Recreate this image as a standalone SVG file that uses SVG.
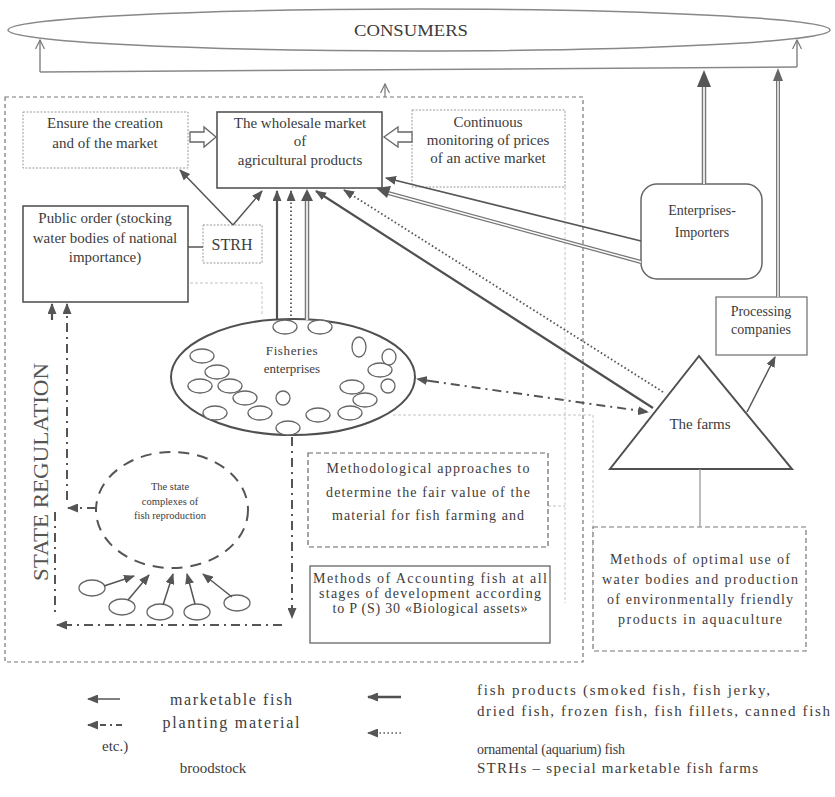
<svg xmlns="http://www.w3.org/2000/svg" width="835" height="797" viewBox="0 0 835 797" font-family="'Liberation Serif', 'DejaVu Serif', serif">
<defs>
<marker id="ah" markerUnits="userSpaceOnUse" markerWidth="11" markerHeight="9" refX="10" refY="4.5" orient="auto"><path d="M0,0 L11,4.5 L0,9 z" fill="#555"/></marker>
<marker id="ao" markerUnits="userSpaceOnUse" markerWidth="10" markerHeight="10" refX="9" refY="5" orient="auto"><path d="M0,0.5 L9,5 L0,9.5" fill="none" stroke="#777" stroke-width="1.2"/></marker>
<style>
text{font-family:"Liberation Serif","DejaVu Serif",serif;fill:#3c3c3c;}
.t16{font-size:16px;}
.t15{font-size:15px;}
.t14{font-size:14px;}
.t13{font-size:13px;}
.t11{font-size:10.5px;}
.c{text-anchor:middle;}
.frame{fill:none;stroke:#777;stroke-width:1.2;stroke-dasharray:4 3;}
.dotbox{fill:#fff;stroke:#999;stroke-width:1;stroke-dasharray:2 1.5;}
.solidbox{fill:#fff;stroke:#555;stroke-width:1.6;}
.faint{fill:none;stroke:#c4c4c4;stroke-width:1;stroke-dasharray:3 2;}
.thin{fill:none;stroke:#555;stroke-width:1.5;}
.thick{fill:none;stroke:#505050;stroke-width:2.2;}
.dotted{fill:none;stroke:#555;stroke-width:1.8;stroke-dasharray:1.6 2.4;}
.dashdot{fill:none;stroke:#555;stroke-width:2;stroke-dasharray:9 5 2 5;}
.dblout{fill:none;stroke:#777;stroke-width:4.5;}
.dblin{fill:none;stroke:#fff;stroke-width:1.6;}
.cons{fill:none;stroke:#888;stroke-width:1.5;}
.fish{fill:#fff;stroke:#666;stroke-width:1.3;}
.hollow{fill:#fff;stroke:#666;stroke-width:1.3;}
</style>
</defs>
<rect width="835" height="797" fill="#fff"/>

<g id="state-regulation">
<rect class="frame" x="5" y="97" width="578" height="565"/>
<text transform="translate(48,472) rotate(-90)" class="c" style="font-size:22px;fill:#555" textLength="218" lengthAdjust="spacingAndGlyphs">STATE REGULATION</text>
</g>
<g id="faint-lines">
<path class="faint" d="M565,187 V603"/>
<path class="faint" d="M393,415 H593 V603"/>
<path class="faint" d="M548,506 H565"/>
<path class="faint" d="M190,283 H262 V315"/>
</g>

<g id="consumers">
<ellipse cx="419" cy="30" rx="411" ry="21" class="cons"/>
<text x="411" y="36" class="c t16" textLength="114" lengthAdjust="spacingAndGlyphs">CONSUMERS</text>
</g>

<g id="ensure">
<rect class="dotbox" x="23" y="112" width="165" height="56"/>
<text x="105" y="128" class="c t15">Ensure the creation</text>
<text x="105" y="148" class="c t15">and of the market</text>
</g>

<g id="wholesale">
<rect class="solidbox" x="217" y="112" width="165" height="76"/>
<text x="300" y="128" class="c t15">The wholesale market</text>
<text x="300" y="146" class="c t15">of</text>
<text x="300" y="165" class="c t15">agricultural products</text>
</g>

<g id="monitoring">
<rect class="dotbox" x="412" y="110" width="153" height="77"/>
<text x="488" y="127" class="c t15">Continuous</text>
<text x="488" y="145" class="c t15">monitoring of prices</text>
<text x="488" y="163" class="c t15">of an active market</text>
</g>

<g id="public-order">
<rect class="solidbox" x="23" y="206" width="165" height="96"/>
<text x="105" y="223" class="c t15">Public order (stocking</text>
<text x="105" y="243" class="c t15">water bodies of national</text>
<text x="105" y="262" class="c t15">importance)</text>
</g>

<g id="strh">
<rect class="dotbox" x="203" y="225" width="59" height="38"/>
<text x="232" y="250" class="c" style="font-size:16px">STRH</text>
</g>

<g id="importers">
<rect x="641" y="184" width="121" height="95" rx="16" fill="#fff" stroke="#666" stroke-width="1.5"/>
<text x="702" y="215" class="c t14">Enterprises-</text>
<text x="702" y="237" class="c t14">Importers</text>
</g>

<g id="processing">
<rect x="716" y="297" width="91" height="58" fill="#fff" stroke="#777" stroke-width="1.3"/>
<text x="761" y="316" class="c t14">Processing</text>
<text x="761" y="334" class="c t14">companies</text>
</g>

<g id="farms">
<polygon points="699,356 610,469 792,469" fill="#fff" stroke="#505050" stroke-width="2"/>
<text x="700" y="429" class="c t15">The farms</text>
</g>

<g id="fisheries">
<ellipse cx="293" cy="377" rx="122" ry="58" fill="#fff" stroke="#505050" stroke-width="2"/>
<text x="292" y="355" class="c t13" style="letter-spacing:0.6px">Fisheries</text>
<text x="292" y="373" class="c t13">enterprises</text>
<ellipse class="fish" cx="285" cy="327" rx="12" ry="7"/>
<ellipse class="fish" cx="320" cy="327" rx="12" ry="7"/>
<ellipse class="fish" cx="202" cy="356" rx="12" ry="7"/>
<ellipse class="fish" cx="217" cy="372" rx="12" ry="7"/>
<ellipse class="fish" cx="200" cy="386" rx="12" ry="7"/>
<ellipse class="fish" cx="230" cy="386" rx="12" ry="7"/>
<ellipse class="fish" cx="245" cy="398" rx="12" ry="7"/>
<ellipse class="fish" cx="215" cy="413" rx="12" ry="7"/>
<ellipse class="fish" cx="260" cy="413" rx="12" ry="7"/>
<ellipse class="fish" cx="283" cy="398" rx="7" ry="7"/>
<ellipse class="fish" cx="288" cy="428" rx="12" ry="7"/>
<ellipse class="fish" cx="318" cy="415" rx="12" ry="7"/>
<ellipse class="fish" cx="350" cy="413" rx="12" ry="7"/>
<ellipse class="fish" cx="365" cy="400" rx="12" ry="7"/>
<ellipse class="fish" cx="352" cy="387" rx="12" ry="7"/>
<ellipse class="fish" cx="388" cy="386" rx="7" ry="7"/>
<ellipse class="fish" cx="380" cy="370" rx="12" ry="7"/>
<ellipse class="fish" cx="389" cy="357" rx="7" ry="8"/>
<ellipse class="fish" cx="359" cy="347" rx="7" ry="10"/>
</g>

<g id="state-complex">
<ellipse cx="172" cy="510" rx="76" ry="58" fill="none" stroke="#555" stroke-width="2" stroke-dasharray="11 8"/>
<text x="170" y="490" class="c t11">The state</text>
<text x="170" y="505" class="c t11">complexes of</text>
<text x="170" y="519" class="c t11">fish reproduction</text>
<ellipse class="fish" cx="92" cy="588" rx="13" ry="8"/>
<ellipse class="fish" cx="122" cy="607" rx="13" ry="8"/>
<ellipse class="fish" cx="160" cy="612" rx="13" ry="8"/>
<ellipse class="fish" cx="197" cy="612" rx="13" ry="8"/>
<ellipse class="fish" cx="237" cy="603" rx="13" ry="8"/>
</g>

<g id="methodological">
<rect x="308" y="453" width="240" height="94" fill="#fff" stroke="#666" stroke-width="1.2" stroke-dasharray="5 3"/>
<text x="428" y="473" class="c t14" textLength="203" lengthAdjust="spacing">Methodological approaches to</text>
<text x="428" y="497" class="c t14" textLength="204" lengthAdjust="spacing">determine the fair value of the</text>
<text x="428" y="520" class="c t14" textLength="192" lengthAdjust="spacing">material for fish farming and</text>
</g>

<g id="accounting">
<rect x="310" y="566" width="240" height="77" fill="#fff" stroke="#666" stroke-width="1.3"/>
<text x="430" y="583" class="c t14" textLength="234" lengthAdjust="spacing">Methods of Accounting fish at all</text>
<text x="430" y="598" class="c t14" textLength="222" lengthAdjust="spacing">stages of development according</text>
<text x="430" y="613" class="c t14" textLength="195" lengthAdjust="spacing">to P (S) 30 «Biological assets»</text>
</g>

<g id="optimal-use">
<rect x="593" y="527" width="213" height="124" fill="#fff" stroke="#777" stroke-width="1.2" stroke-dasharray="5 3"/>
<text x="700" y="564" class="c t14" textLength="180" lengthAdjust="spacing">Methods of optimal use of</text>
<text x="700" y="584" class="c t14" textLength="196" lengthAdjust="spacing">water bodies and production</text>
<text x="700" y="604" class="c t14" textLength="186" lengthAdjust="spacing">of environmentally friendly</text>
<text x="700" y="624" class="c t14" textLength="164" lengthAdjust="spacing">products in aquaculture</text>
</g>

<g id="connectors">
<path class="cons" d="M40,72 L797,67"/>
<path class="cons" d="M40,72 V40" marker-end="url(#ao)"/>
<path class="cons" d="M797,67 V40" marker-end="url(#ao)"/>
<path d="M385,97 V84" fill="none" stroke="#777" stroke-width="1.2" marker-end="url(#ao)"/>
<path class="dblout" d="M704,184 V84"/><path class="dblin" d="M704,184 V84"/>
<polygon points="697,87 704,70 711,87" fill="#555"/>
<path class="dblout" d="M778,297 V80" style="stroke-width:4"/><path class="dblin" d="M778,297 V80" style="stroke-width:1.4"/>
<polygon points="773,81 778,68 783,81" fill="#666"/>

<polygon class="hollow" points="190,132 204,132 204,127 216,137 204,147 204,142 190,142"/>
<polygon class="hollow" points="412,132 398,132 398,127 384,137 398,147 398,142 412,142"/>

<path class="thin" d="M233,225 L180,170" marker-end="url(#ah)"/>
<path class="thin" d="M233,225 L262,191" marker-end="url(#ah)"/>
<path class="thin" d="M188,247 H203"/>

<path class="thick" d="M277,320 V191" marker-end="url(#ah)"/>
<path class="dotted" d="M291,320 V191" marker-end="url(#ah)"/>
<path class="dblout" d="M307,320 V200"/><path class="dblin" d="M307,320 V200"/>
<polygon points="301,201 307,189 313,201" fill="#555"/>

<path class="thick" d="M653,408 L316,191" marker-end="url(#ah)"/>
<path class="dotted" d="M663,392 L344,190" marker-end="url(#ah)"/>

<path class="thin" d="M641,241 L386,178" marker-end="url(#ah)"/>
<path class="dblout" d="M641,262 L388,193" style="stroke-width:4"/><path class="dblin" d="M641,262 L388,193" style="stroke-width:1.4"/>
<polygon points="376,188 391,186 387,198" fill="#555"/>

<path class="thin" d="M747,412 L775,357" marker-end="url(#ah)"/>
<path fill="none" stroke="#999" stroke-width="1.3" d="M700,469 V527"/>

<path class="dashdot" d="M430,381 L648,412" marker-end="url(#ah)"/>
<path class="dashdot" d="M430,381 L417,379" marker-end="url(#ah)"/>

<path class="dashdot" d="M96,508 H68" marker-end="url(#ah)"/>
<path class="dashdot" d="M67,500 V304" marker-end="url(#ah)"/>
<path class="thick" d="M52,320 V304" marker-end="url(#ah)"/>

<path class="dashdot" d="M292,437 V618" marker-end="url(#ah)"/>
<path class="dashdot" d="M282,625 H57" marker-end="url(#ah)"/>
<path class="dashdot" d="M55,512 V612"/>

<path class="thin" d="M104,586 L134,576" marker-end="url(#ah)"/>
<path class="thin" d="M128,600 L149,575" marker-end="url(#ah)"/>
<path class="thin" d="M163,605 L173,574" marker-end="url(#ah)"/>
<path class="thin" d="M195,604 L187,574" marker-end="url(#ah)"/>
<path class="thin" d="M232,597 L203,574" marker-end="url(#ah)"/>
</g>

<g id="legend">
<path class="thin" d="M120,699 H88" marker-end="url(#ah)"/>
<path fill="none" stroke="#555" stroke-width="1.8" stroke-dasharray="6 4 2 4" d="M122,725 H88" marker-end="url(#ah)"/>
<path class="thick" style="stroke-width:2.6" d="M401,697 H368" marker-end="url(#ah)"/>
<path class="dotted" style="stroke:#888" d="M401,733 H368" marker-end="url(#ah)"/>
<text x="231" y="705" class="c t16" textLength="122" lengthAdjust="spacing">marketable fish</text>
<text x="231" y="728" class="c t16" textLength="137" lengthAdjust="spacing">planting material</text>
<text x="102" y="751" class="t15">etc.)</text>
<text x="213" y="773" class="c t15">broodstock</text>
<text x="477" y="695" class="t15" textLength="293" lengthAdjust="spacing">fish products (smoked fish, fish jerky,</text>
<text x="477" y="716" class="t15" textLength="353" lengthAdjust="spacing">dried fish, frozen fish, fish fillets, canned fish</text>
<text x="477" y="754" class="t14" textLength="148" lengthAdjust="spacing">ornamental (aquarium) fish</text>
<text x="477" y="773" class="t15" textLength="281" lengthAdjust="spacing">STRHs – special marketable fish farms</text>
</g>
</svg>
